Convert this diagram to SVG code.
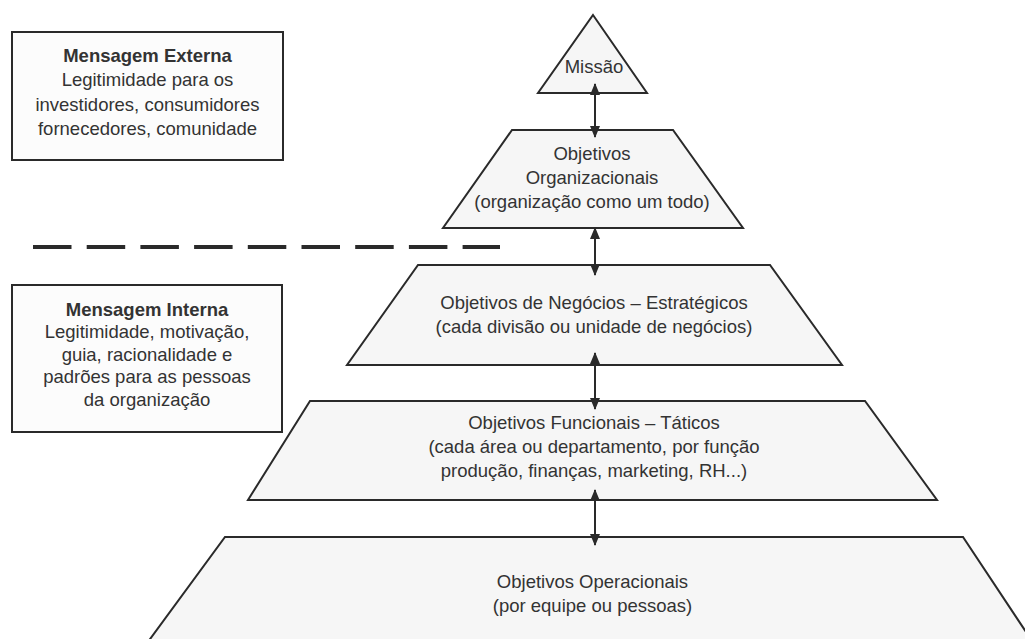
<svg xmlns="http://www.w3.org/2000/svg" width="1025" height="639" viewBox="0 0 1025 639">
  <defs>
    <style>
      .shape { fill: #f6f6f6; stroke: #2a2a2a; stroke-width: 2; stroke-linejoin: miter; }
      .box { fill: #fcfcfc; stroke: #2a2a2a; stroke-width: 2; }
      .t { font-family: "Liberation Sans", Arial, sans-serif; font-size: 18.5px; fill: #333333; text-anchor: middle; }
      .b { font-weight: bold; }
      .conn { stroke: #2a2a2a; stroke-width: 2; fill: none; marker-start: url(#ah); marker-end: url(#ah); }
    </style>
    <marker id="ah" viewBox="0 0 12 10" refX="11" refY="5" markerWidth="12" markerHeight="10" markerUnits="userSpaceOnUse" orient="auto-start-reverse">
      <path d="M0,0 L12,5 L0,10 Z" fill="#2a2a2a"/>
    </marker>
  </defs>
  <rect width="1025" height="639" fill="#ffffff"/>

  <g id="msg-externa">
    <rect class="box" x="12" y="32" width="271" height="128"/>
    <text class="t b" x="147.5" y="62">Mensagem Externa</text>
    <text class="t" x="147.5" y="86">Legitimidade para os</text>
    <text class="t" x="147.5" y="111">investidores, consumidores</text>
    <text class="t" x="147.5" y="135">fornecedores, comunidade</text>
  </g>

  <g id="separador">
    <line x1="33" y1="247" x2="500" y2="247" stroke="#2a2a2a" stroke-width="4" stroke-dasharray="38.5 15.2"/>
  </g>

  <g id="msg-interna">
    <rect class="box" x="12" y="285" width="270" height="147"/>
    <text class="t b" x="147" y="316">Mensagem Interna</text>
    <text class="t" x="147" y="338">Legitimidade, motivação,</text>
    <text class="t" x="147" y="361">guia, racionalidade e</text>
    <text class="t" x="147" y="383">padrões para as pessoas</text>
    <text class="t" x="147" y="406">da organização</text>
  </g>

  <g id="missao">
    <polygon class="shape" points="593,15 647,93 538,93"/>
    <text class="t" x="594" y="73">Missão</text>
  </g>

  <g id="obj-organizacionais">
    <polygon class="shape" points="512,130 673,130 743,228 443,228"/>
    <text class="t" x="592" y="160">Objetivos</text>
    <text class="t" x="592" y="184">Organizacionais</text>
    <text class="t" x="592" y="208">(organização como um todo)</text>
  </g>

  <g id="obj-negocios">
    <polygon class="shape" points="418,265 770,265 842,365 347,365"/>
    <text class="t" x="594" y="309">Objetivos de Negócios – Estratégicos</text>
    <text class="t" x="594" y="333">(cada divisão ou unidade de negócios)</text>
  </g>

  <g id="obj-funcionais">
    <polygon class="shape" points="310,401 865,401 937,500 248,500"/>
    <text class="t" x="594" y="429">Objetivos Funcionais – Táticos</text>
    <text class="t" x="594" y="453">(cada área ou departamento, por função</text>
    <text class="t" x="594" y="477">produção, finanças, marketing, RH...)</text>
  </g>

  <g id="obj-operacionais">
    <polygon class="shape" points="225,537 963,537 1038,650 142,650"/>
    <text class="t" x="592.5" y="588">Objetivos Operacionais</text>
    <text class="t" x="592.5" y="612">(por equipe ou pessoas)</text>
  </g>

  <g id="connectors">
    <line class="conn" x1="595" y1="84" x2="595" y2="137"/>
    <line class="conn" x1="595" y1="228" x2="595" y2="275"/>
    <line class="conn" x1="595" y1="353" x2="595" y2="409"/>
    <line class="conn" x1="595" y1="490" x2="595" y2="545"/>
  </g>
</svg>
